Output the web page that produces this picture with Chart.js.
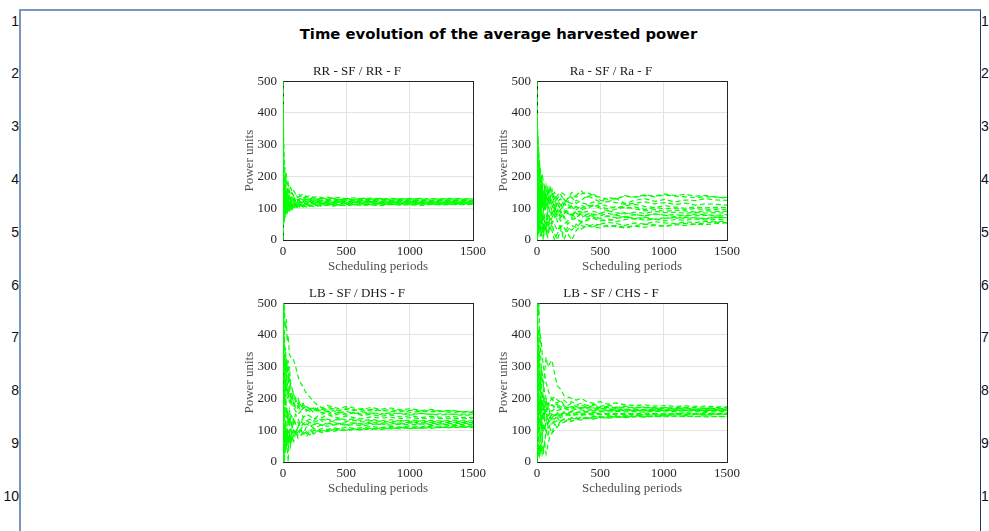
<!DOCTYPE html>
<html><head><meta charset="utf-8">
<script src="https://cdn.jsdelivr.net/npm/chart.js@4"></script>
<style>
html,body{margin:0;padding:0;background:#fff}
body{width:989px;height:531px;overflow:hidden;position:relative;font-family:"Liberation Sans",Arial,sans-serif}
#frame{position:absolute;left:19px;top:9px;width:959px;height:600px;border-top:2px solid #7a96bb;border-left:2px solid #7a96bb;border-right:1px solid #1b3a6b}
.ln{position:absolute;font-size:14px;line-height:16px;color:#111}
.l{right:970px;text-align:right}
.r{left:981px}
#title{position:absolute;left:0;width:997px;top:24px;text-align:center;font-weight:bold;font-size:14.8px;line-height:20px;color:#000;font-family:"DejaVu Sans",sans-serif}
.cw{position:absolute}
</style>
</head><body>
<div id="frame"></div>
<div id="title">Time evolution of the average harvested power</div>
<div id="nums"></div>
<div class="cw" style="left:241px;top:63px"><canvas id="c0" width="250" height="212"></canvas></div>
<div class="cw" style="left:495px;top:63px"><canvas id="c1" width="250" height="212"></canvas></div>
<div class="cw" style="left:241px;top:285px"><canvas id="c2" width="250" height="212"></canvas></div>
<div class="cw" style="left:495px;top:285px"><canvas id="c3" width="250" height="212"></canvas></div>
<script>
// ---- data ----
const rowNumbers = [1,2,3,4,5,6,7,8,9,10];
const panelTitles = ['RR - SF / RR - F', 'Ra - SF / Ra - F', 'LB - SF / DHS - F', 'LB - SF / CHS - F'];
const xTicks = [0, 500, 1000, 1500];
const yTicks = [0, 100, 200, 300, 400, 500];
const xLabel = 'Scheduling periods';
const yLabel = 'Power units';
const periods = [1,3,5,8,11,15,20,26,33,41,50,60,72,85,100,118,138,160,185,212,242,275,310,350,395,445,500,560,625,695,770,850,930,1010,1090,1170,1250,1330,1415,1500];

const rrRuns = [
 [500,380,300,240,210,230,200,185,175,160,150,155,145,140,138,135,140,132,138,130,134,128,132,127,130,126,129,125,128,124,127,123,126,124,125,123,125,122,124,123],
 [0,30,60,50,75,70,85,80,95,90,100,95,104,100,106,102,108,104,110,106,111,107,112,108,113,109,112,110,113,111,114,112,113,111,114,112,113,112,114,113],
 [420,300,200,170,150,175,160,140,150,135,140,130,135,128,132,126,130,124,128,123,127,122,126,121,125,122,126,123,125,121,124,122,125,123,124,122,124,123,125,124],
 [60,150,100,130,90,120,100,115,95,110,100,112,104,114,106,115,108,116,110,117,112,118,113,117,114,119,115,118,116,119,115,118,117,119,116,118,117,119,118,117],
 [300,220,260,200,180,160,175,150,165,145,155,140,148,138,142,135,138,132,136,130,133,129,131,128,130,127,129,126,128,127,129,126,128,126,127,125,127,126,127,126],
 [150,90,130,150,110,130,105,125,110,122,108,120,112,122,114,120,116,121,117,122,118,121,117,120,118,121,117,120,119,121,118,120,119,121,118,120,119,120,119,120],
 [250,160,110,90,130,100,80,115,95,120,100,118,105,120,108,118,110,120,112,121,114,120,115,121,116,122,117,121,118,122,117,121,119,122,118,121,119,121,120,121],
 [100,220,180,120,160,120,145,115,140,120,135,118,132,122,134,124,133,125,135,126,132,127,133,128,132,127,131,128,132,129,131,128,130,129,131,128,130,129,130,129],
 [350,250,150,120,100,140,115,130,105,125,112,126,110,124,113,122,111,120,114,121,115,120,114,119,116,120,115,118,116,119,115,118,116,118,115,117,116,118,116,117],
 [20,80,120,90,65,110,80,100,90,112,95,108,98,110,100,108,102,110,104,109,105,110,106,111,107,110,108,112,109,111,108,112,110,111,109,112,110,112,111,112],
 [480,400,320,280,240,200,180,210,170,180,160,165,150,155,145,148,140,145,136,140,134,138,132,135,131,134,130,133,130,132,129,131,130,131,129,130,129,131,129,130],
 [200,120,70,100,60,95,80,105,88,98,92,104,96,106,100,107,102,108,104,109,106,110,107,111,108,111,109,112,110,112,111,113,111,113,112,114,112,113,113,114],
 [380,240,180,130,160,190,170,145,130,150,128,140,125,135,122,130,120,128,119,126,118,124,119,123,120,124,121,123,120,122,121,123,120,122,121,122,120,122,121,122],
 [80,50,100,140,120,80,100,90,108,95,112,98,110,102,114,104,112,106,114,108,115,109,114,110,115,111,116,112,115,113,116,112,115,114,116,113,115,114,116,115],
 [450,200,150,180,140,125,150,135,120,138,125,132,118,130,120,128,119,126,121,127,122,126,121,125,122,126,121,124,122,125,121,124,122,124,121,123,122,124,122,123],
 [130,260,200,160,110,140,125,105,130,115,125,110,120,108,118,112,120,110,117,112,118,113,117,114,118,114,117,115,118,114,117,115,117,116,118,115,117,116,117,116]
];
const raRuns = [
 [500,420,350,300,260,230,250,200,190,210,180,170,160,150,165,140,150,130,145,125,120,135,115,125,140,130,120,135,128,140,135,142,138,145,140,144,138,140,135,132],
 [200,360,300,250,200,280,220,180,150,190,130,120,170,140,110,130,100,120,95,110,130,150,140,155,135,145,125,120,130,115,125,130,122,128,120,126,124,130,126,125],
 [0,60,120,180,140,100,160,130,90,140,110,170,130,150,120,160,130,100,90,80,100,105,95,110,100,112,104,98,106,100,104,96,102,98,101,96,99,95,97,95],
 [450,320,220,330,300,250,200,230,180,150,120,140,100,120,90,80,100,85,75,90,85,80,92,88,80,90,84,92,86,82,88,84,90,86,88,84,87,85,86,85],
 [100,30,80,130,60,100,150,110,90,60,100,70,50,80,60,90,110,80,95,70,85,75,90,80,72,82,76,84,78,72,80,76,82,78,74,79,76,78,75,76],
 [30,0,20,60,40,80,50,30,60,40,20,50,30,10,40,30,0,20,40,0,30,45,40,55,48,42,50,56,52,46,54,50,58,54,52,57,55,59,57,60],
 [300,150,250,100,200,120,80,140,100,60,90,120,80,60,50,70,90,60,40,50,60,70,65,58,66,72,64,60,68,72,66,70,64,68,72,68,70,67,71,70],
 [250,400,200,150,260,180,120,200,140,100,120,150,110,130,170,140,120,130,110,120,100,110,105,95,100,108,100,92,96,104,98,92,96,90,94,92,88,92,90,90],
 [50,100,40,10,50,20,60,40,10,30,55,25,45,20,40,60,50,30,45,40,20,0,30,45,40,50,48,42,46,40,45,50,48,44,50,52,50,54,56,55],
 [150,250,100,60,120,200,90,150,200,130,100,170,120,100,140,110,90,115,100,130,115,95,105,100,110,104,112,106,100,108,112,106,102,108,104,100,104,101,103,102],
 [400,200,120,80,100,60,40,80,50,70,30,60,40,70,90,80,100,70,85,95,90,80,70,85,90,78,84,74,80,86,80,76,82,78,80,76,82,79,78,80],
 [350,280,160,220,120,170,140,100,130,160,140,120,150,165,130,110,140,120,130,110,120,115,125,118,112,120,115,122,118,112,116,120,114,118,112,116,110,114,112,110],
 [0,80,150,50,90,30,70,100,80,50,80,40,60,90,70,50,70,80,60,75,50,65,70,55,62,68,60,66,58,64,68,62,66,60,64,62,66,63,65,64],
 [120,60,200,100,170,140,110,160,120,180,150,110,140,120,160,150,130,140,150,145,130,140,135,145,150,140,135,128,132,138,134,140,136,142,138,136,133,137,135,134],
 [60,180,90,40,20,80,40,10,60,30,0,40,20,60,30,50,20,0,30,20,40,30,50,35,45,40,38,46,42,38,44,40,46,42,48,45,50,48,52,54],
 [380,250,300,180,150,210,170,130,160,110,150,90,130,100,120,90,75,95,70,85,90,75,85,70,80,74,68,76,70,74,68,72,66,70,68,72,70,68,72,70]
];
const dhsRuns = [
 [500,480,500,460,500,440,420,450,380,400,340,330,330,320,300,270,250,235,215,205,190,178,170,178,172,168,175,170,165,172,166,170,164,168,162,166,160,163,158,156],
 [300,500,420,480,380,350,300,330,290,270,300,250,230,210,200,190,180,170,175,165,170,160,165,158,162,155,160,152,158,154,150,155,152,148,153,150,148,151,147,148],
 [0,100,50,0,80,30,120,60,100,40,80,110,90,100,85,95,100,90,95,100,92,98,100,96,102,98,104,100,106,102,108,104,110,106,108,112,108,110,112,111],
 [450,350,300,250,280,220,260,240,200,230,190,200,180,170,160,150,160,140,150,145,135,145,140,150,142,138,145,140,136,142,138,141,137,140,136,139,137,138,136,137],
 [100,200,150,250,180,140,200,170,150,120,160,130,110,140,120,110,130,120,115,125,118,122,116,124,118,121,117,123,119,122,118,121,120,123,119,122,120,121,122,121],
 [200,80,150,100,60,100,50,90,70,100,60,80,70,90,95,85,100,95,90,100,105,100,106,102,108,104,110,106,108,112,108,112,110,114,111,115,112,115,114,114],
 [400,300,380,330,260,300,220,280,250,200,230,190,210,180,170,180,160,170,175,165,160,170,165,172,168,160,166,162,168,160,164,158,162,156,160,158,160,156,158,157],
 [50,0,30,120,90,60,130,100,70,150,120,140,110,130,150,135,120,140,130,125,130,140,128,135,130,138,132,136,130,134,130,133,129,132,130,131,129,132,130,130],
 [350,250,200,150,220,180,260,150,170,140,130,150,140,120,130,125,110,120,130,135,125,130,135,130,128,134,128,132,126,130,128,126,130,127,129,126,128,127,128,127],
 [150,300,250,180,130,160,110,130,160,140,110,130,115,100,95,105,100,90,110,115,108,112,118,112,116,120,115,118,114,118,120,116,119,117,120,118,119,117,118,118],
 [500,400,350,300,330,280,300,260,240,260,220,210,200,190,175,185,170,180,165,160,168,160,155,162,150,158,152,156,150,155,152,150,154,150,153,150,152,150,151,151],
 [250,150,100,200,100,80,120,70,100,60,90,75,100,80,90,85,80,95,90,85,100,95,98,102,100,104,100,105,103,106,104,106,108,105,108,106,109,108,110,108],
 [0,20,100,50,0,60,30,80,50,0,90,70,80,100,90,110,100,115,120,112,118,122,115,120,125,120,124,122,120,125,122,124,122,126,123,125,123,126,124,124],
 [480,420,450,380,300,340,280,300,320,250,260,210,220,180,200,170,180,170,175,168,172,165,170,164,168,162,170,165,160,166,162,165,160,163,160,162,159,161,158,160],
 [380,500,450,350,400,320,360,300,280,320,260,240,230,210,190,200,180,185,160,170,155,165,150,158,145,152,148,155,146,150,144,148,142,146,140,144,141,143,140,141],
 [60,150,30,90,40,120,70,40,110,60,90,50,80,65,95,75,85,90,80,95,88,98,92,100,95,102,98,104,100,106,102,108,104,110,106,110,108,112,110,112]
];
const chsRuns = [
 [500,450,500,480,460,500,420,400,380,340,300,280,250,230,210,200,205,195,190,195,185,190,180,185,178,182,175,180,172,176,170,174,168,172,167,170,166,169,168,168],
 [20,25,20,30,25,40,20,30,50,25,40,60,25,50,80,90,100,110,120,125,130,128,135,132,138,135,140,138,142,140,143,141,144,142,145,143,144,142,143,143],
 [400,300,350,250,200,260,220,240,180,210,190,200,170,185,175,180,170,175,168,172,165,170,166,172,168,164,170,166,163,167,164,166,162,165,163,164,162,164,163,162],
 [100,200,150,120,180,140,120,160,130,150,140,160,150,145,155,150,148,152,150,155,150,152,155,150,153,151,154,152,150,153,151,154,152,150,153,151,152,153,152,152],
 [300,150,100,180,120,90,140,110,130,100,120,110,125,120,130,140,135,145,140,145,148,145,150,147,150,148,151,149,152,148,150,148,151,149,150,148,150,149,150,150],
 [200,350,250,300,240,280,230,250,300,260,240,280,330,300,310,320,280,240,230,210,205,200,195,200,190,185,190,182,186,180,178,180,176,178,175,177,175,176,174,174],
 [50,100,200,150,100,160,200,170,150,130,160,140,130,145,140,150,145,155,150,158,155,160,157,155,158,156,159,157,160,158,159,157,160,158,159,157,158,159,158,159],
 [450,400,300,200,250,180,160,200,170,190,180,160,175,165,170,180,175,170,175,168,172,170,174,170,172,170,173,171,172,170,173,171,172,170,171,172,171,170,171,171],
 [150,80,120,60,100,140,90,70,110,90,100,110,95,105,115,120,125,130,128,135,132,138,136,140,138,142,140,143,141,144,142,145,143,146,144,145,143,145,144,144],
 [250,180,220,160,200,170,190,150,180,160,170,190,180,170,190,200,190,185,195,180,178,185,175,180,172,178,170,176,168,174,170,172,167,170,168,170,166,168,167,167],
 [0,50,100,30,70,20,50,25,100,80,120,100,130,120,140,135,145,150,145,155,152,158,155,160,158,162,160,163,161,164,162,163,161,163,162,164,162,163,162,161],
 [350,500,420,380,300,350,420,380,300,280,250,220,200,180,190,200,185,180,175,178,170,175,172,168,172,170,168,166,168,165,167,164,166,164,165,163,165,164,165,166],
 [120,250,180,220,150,190,160,130,140,120,150,130,140,150,145,140,148,150,145,150,152,148,150,153,150,152,149,151,153,150,152,150,153,151,152,150,152,151,152,152],
 [480,300,200,280,180,220,170,200,160,180,165,175,160,170,165,160,168,162,165,170,165,162,166,164,162,165,163,161,164,162,163,161,163,162,164,162,163,162,163,163],
 [380,200,450,300,420,250,350,200,280,160,230,130,200,110,160,120,130,140,125,135,138,130,140,134,142,136,144,138,146,140,148,142,150,144,152,146,150,148,150,150],
 [60,20,40,20,30,120,20,60,30,80,25,60,100,80,110,90,120,110,130,125,135,140,132,142,138,145,140,146,142,148,144,150,146,152,148,155,150,156,152,155]
];
const panelRuns = [rrRuns, raRuns, dhsRuns, chsRuns];

// ---- row numbers ----
const nums = document.getElementById('nums');
rowNumbers.forEach((n, i) => {
  const y = 20.5 + 52.83 * i - 8;
  ['l', 'r'].forEach(side => {
    const d = document.createElement('div');
    d.className = 'ln ' + side;
    d.style.top = y + 'px';
    d.textContent = n;
    nums.appendChild(d);
  });
});

// ---- charts ----
const boxPlugin = {
  id: 'box',
  beforeDatasetsDraw(chart) {
    const {ctx, chartArea: a} = chart;
    ctx.save();
    ctx.strokeStyle = '#262626';
    ctx.lineWidth = 1;
    ctx.strokeRect(Math.round(a.left) + 0.5, Math.round(a.top) + 0.5, Math.round(a.width), Math.round(a.height));
    ctx.restore();
  }
};
const serif = '"Liberation Serif","Times New Roman",serif';

panelRuns.forEach((runs, p) => {
  const datasets = runs.map(vals => ({
    data: vals.map((v, i) => ({x: periods[i], y: v})),
    borderColor: 'rgb(0,255,0)',
    borderWidth: 1.2,
    borderDash: [5, 3],
    pointRadius: 0,
    tension: 0,
    fill: false
  }));
  new Chart(document.getElementById('c' + p), {
    type: 'line',
    data: {datasets},
    plugins: [boxPlugin],
    options: {
      responsive: false,
      animation: false,
      events: [],
      layout: {padding: {left: 0, right: 18, top: 0, bottom: 0}},
      plugins: {
        legend: {display: false},
        tooltip: {enabled: false},
        title: {
          display: true, text: panelTitles[p], color: '#1a1a1a',
          font: {family: serif, size: 13, weight: 'normal', lineHeight: 1.25},
          padding: {top: 0, bottom: 2}
        }
      },
      scales: {
        x: {
          type: 'linear', min: 0, max: 1500,
          afterBuildTicks: s => { s.ticks = xTicks.map(v => ({value: v})); },
          afterFit: s => { s.height = 35; },
          ticks: {color: '#262626', font: {family: serif, size: 13, lineHeight: 1.25}, padding: 3, maxRotation: 0, autoSkip: false, callback: v => String(v)},
          grid: {color: '#e3e3e3', drawTicks: false},
          border: {display: false},
          title: {display: true, text: xLabel, color: '#505050', font: {family: serif, size: 13, lineHeight: 1.25}, padding: {top: 0, bottom: 0}}
        },
        y: {
          type: 'linear', min: 0, max: 500,
          afterBuildTicks: s => { s.ticks = yTicks.map(v => ({value: v})); },
          afterFit: s => { s.width = 42; },
          ticks: {color: '#262626', font: {family: serif, size: 13, lineHeight: 1.25}, padding: 6, autoSkip: false, callback: v => String(v)},
          grid: {color: '#e3e3e3', drawTicks: false},
          border: {display: false},
          title: {display: true, text: yLabel, color: '#505050', font: {family: serif, size: 13, lineHeight: 1.25}, padding: {top: 0, bottom: 0}}
        }
      }
    }
  });
});
</script>
</body></html>
